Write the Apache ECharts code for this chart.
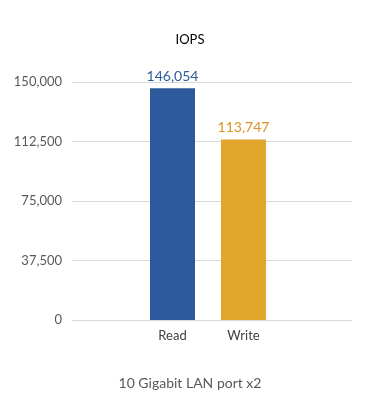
<!DOCTYPE html>
<html>
<head>
<meta charset="utf-8">
<script src="https://cdn.jsdelivr.net/npm/echarts@6/dist/echarts.min.js"></script>
<style>
  html, body { margin: 0; padding: 0; background: #fff; }
  #chart { width: 380px; height: 420px; }
</style>
</head>
<body>
<div id="chart"></div>
<script>
const categories = ['Read', 'Write'];
const iopsValues = [146054, 113747];
const barColors = ['#2C5A9C', '#E0A72C'];
const labelColors = ['#2C5A9C', '#D9941E'];
const yTicks = [0, 37500, 75000, 112500, 150000];
const groupLabel = '10 Gigabit LAN port x2';

const font = 'Lato, "Open Sans", sans-serif';
const chart = echarts.init(document.getElementById('chart'), null, { renderer: 'canvas' });

const option = {
    animation: false,
    title: [
        {
            text: 'IOPS',
            left: 'center',
            top: 28,
            textStyle: { fontFamily: font, fontSize: 13, fontWeight: 'normal', color: '#000' }
        },
        {
            // group label under the categories, centred on the whole chart
            text: groupLabel,
            left: 'center',
            top: 371,
            textStyle: { fontFamily: font, fontSize: 14, fontWeight: 'normal', color: '#595959' }
        }
    ],
    grid: [
        // full-width grid for the value axis and gridlines
        { left: 72, right: 28, top: 82, bottom: 100 },
        // narrower grid so the two bars sit close together in the middle
        { left: 137, right: 101, top: 82, bottom: 100 }
    ],
    xAxis: [
        { gridIndex: 0, type: 'category', data: [''], show: false },
        {
            gridIndex: 1,
            type: 'category',
            data: categories,
            axisLine: { show: false },
            axisTick: { show: false },
            axisLabel: { fontFamily: font, fontSize: 13, color: '#404040', margin: 9 }
        }
    ],
    yAxis: [
        {
            gridIndex: 0,
            type: 'value',
            min: yTicks[0],
            max: yTicks[yTicks.length - 1],
            interval: yTicks[1] - yTicks[0],
            axisLine: { show: false },
            axisTick: { show: false },
            splitLine: { lineStyle: { color: '#D9D9D9', width: 1 } },
            axisLabel: {
                fontFamily: font,
                fontSize: 13,
                color: '#595959',
                margin: 10,
                formatter: (v) => v.toLocaleString('en-US')
            }
        },
        {
            gridIndex: 1,
            type: 'value',
            min: yTicks[0],
            max: yTicks[yTicks.length - 1],
            show: false
        }
    ],
    series: [
        {
            type: 'bar',
            xAxisIndex: 1,
            yAxisIndex: 1,
            barWidth: 45,
            data: iopsValues.map((v, i) => ({
                value: v,
                itemStyle: { color: barColors[i] },
                label: { color: labelColors[i] }
            })),
            label: {
                show: true,
                position: 'top',
                distance: 5,
                fontFamily: font,
                fontSize: 14,
                formatter: (p) => p.value.toLocaleString('en-US')
            }
        }
    ]
};

chart.setOption(option);
</script>
</body>
</html>
